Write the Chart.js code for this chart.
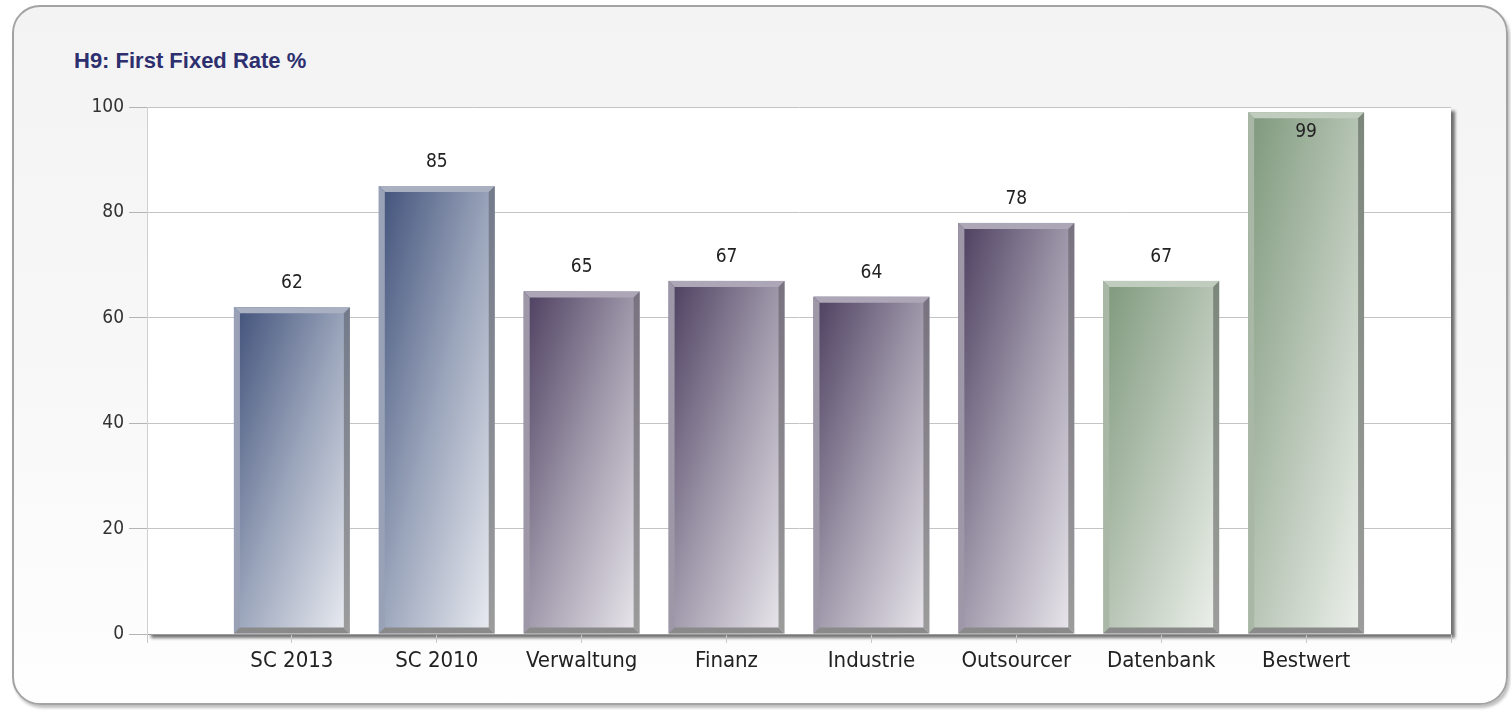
<!DOCTYPE html>
<html>
<head>
<meta charset="utf-8">
<script src="https://cdn.jsdelivr.net/npm/chart.js@4.4.1/dist/chart.umd.min.js"></script>
<style>
    html, body { margin: 0; padding: 0; background: #ffffff; width: 1511px; height: 711px; overflow: hidden; }
    #panel {
        position: absolute; left: 12px; top: 5px; width: 1492px; height: 696px;
        border: 2px solid #a3a3a3; border-radius: 28px;
        background: linear-gradient(to bottom, #f3f3f3 0%, #f8f8f8 55%, #fefefe 100%);
        box-shadow: 2px 3px 3px rgba(0, 0, 0, 0.25);
    }
    #title {
        position: absolute; left: 74px; top: 48px;
        font: bold 22px "Liberation Sans", Arial, sans-serif; color: #2d2f6e;
    }
    #chart { position: absolute; left: 0; top: 0; }
</style>
</head>
<body>
<div id="panel"></div>
<div id="title">H9: First Fixed Rate %</div>
<canvas id="chart" width="1511" height="711"></canvas>
<script>
const categories = ['SC 2013', 'SC 2010', 'Verwaltung', 'Finanz', 'Industrie', 'Outsourcer', 'Datenbank', 'Bestwert'];
const values = [62, 85, 65, 67, 64, 78, 67, 99];
const yTicks = [0, 20, 40, 60, 80, 100];
const barGroups = ['blue', 'blue', 'purple', 'purple', 'purple', 'purple', 'green', 'green'];

// colours for the bevelled gradient bars
const palette = {
    blue:   { dark: '#3f5079', mid: '#9ba5bb', light: '#eceef3', top: '#a8b0c2', left: '#98a1b6', side: '#737a8a' },
    purple: { dark: '#4b3d5e', mid: '#a099ab', light: '#ebe9ee', top: '#aca6b6', left: '#9d97a7', side: '#77727f' },
    green:  { dark: '#7d987b', mid: '#b7c5b5', light: '#eef2ed', top: '#c0ccbe', left: '#a9b8a6', side: '#7c877b' }
};

const FONT = '"DejaVu Sans Condensed", "DejaVu Sans", sans-serif';
Chart.defaults.font.family = FONT;

// the x axis has an empty slot at each end, bars sit on the inner ticks
const axisLabels = [''].concat(categories, ['']);
const axisData = [null].concat(values, [null]);

const plotBackground = {
    id: 'plotBackground',
    beforeDraw(chart) {
        const { ctx, chartArea: a } = chart;
        ctx.save();
        ctx.shadowColor = 'rgba(0, 0, 0, 0.55)';
        ctx.shadowOffsetX = 4;
        ctx.shadowOffsetY = 4;
        ctx.shadowBlur = 3;
        ctx.fillStyle = '#ffffff';
        ctx.fillRect(a.left, a.top, a.right - a.left, a.bottom - a.top);
        ctx.restore();
    }
};

function poly(ctx, pts, fill) {
    ctx.beginPath();
    ctx.moveTo(pts[0][0], pts[0][1]);
    for (let i = 1; i < pts.length; i++) ctx.lineTo(pts[i][0], pts[i][1]);
    ctx.closePath();
    ctx.fillStyle = fill;
    ctx.fill();
}

const bevelBars = {
    id: 'bevelBars',
    afterDatasetsDraw(chart) {
        const ctx = chart.ctx;
        const meta = chart.getDatasetMeta(0);
        const area = chart.chartArea;
        const b = 6;
        meta.data.forEach((bar, i) => {
            const v = axisData[i];
            if (v === null) return;
            const p = bar.getProps(['x', 'y', 'base', 'width'], true);
            const c = palette[barGroups[i - 1]];
            const x0 = p.x - p.width / 2, x1 = p.x + p.width / 2;
            const top = p.y, bottom = p.base;
            const w = x1 - x0, h = bottom - top;

            // diagonal gradient: t = 0.5*x/w + 0.5*y/h
            const vx = 0.5 / w, vy = 0.5 / h;
            const n = vx * vx + vy * vy;
            const g = ctx.createLinearGradient(x0, top, x0 + vx / n, top + vy / n);
            g.addColorStop(0, c.dark);
            g.addColorStop(0.5, c.mid);
            g.addColorStop(1, c.light);
            ctx.save();
            ctx.fillStyle = g;
            ctx.fillRect(x0, top, w, h);

            poly(ctx, [[x0, top], [x1, top], [x1 - b, top + b], [x0 + b, top + b]], c.top);
            poly(ctx, [[x0, top], [x0 + b, top + b], [x0 + b, bottom - b], [x0, bottom]], c.left);
            const sg = ctx.createLinearGradient(0, top, 0, bottom);
            sg.addColorStop(0, c.side);
            sg.addColorStop(1, '#9c9c9c');
            poly(ctx, [[x1, top], [x1, bottom], [x1 - b, bottom - b], [x1 - b, top + b]], sg);
            poly(ctx, [[x0, bottom], [x1, bottom], [x1 - b, bottom - b], [x0 + b, bottom - b]], '#8a8a8a');

            // value label
            let ly = top - 24;
            if (ly - 10 < area.top) ly = top + 20;
            ctx.fillStyle = '#222222';
            ctx.font = '19px ' + FONT;
            ctx.textAlign = 'center';
            ctx.textBaseline = 'middle';
            ctx.fillText(String(v), p.x, ly);
            ctx.restore();
        });
    }
};

new Chart(document.getElementById('chart').getContext('2d'), {
    type: 'bar',
    data: {
        labels: axisLabels,
        datasets: [{
            data: axisData,
            backgroundColor: 'rgba(0, 0, 0, 0)',
            borderWidth: 0,
            categoryPercentage: 0.8,
            barPercentage: 1
        }]
    },
    options: {
        responsive: false,
        animation: false,
        layout: { padding: { left: 0, right: 60, top: 107, bottom: 0 } },
        plugins: {
            legend: { display: false },
            tooltip: { enabled: false }
        },
        scales: {
            x: {
                type: 'category',
                offset: false,
                afterFit(scale) { scale.height = 77; },
                grid: { offset: false, drawOnChartArea: false, tickLength: 9, tickColor: '#c8c8c8' },
                border: { color: '#9a9a9a' },
                ticks: { autoSkip: false, maxRotation: 0, padding: 5, color: '#222222', font: { size: 22 } }
            },
            y: {
                min: 0,
                max: 100,
                afterFit(scale) { scale.width = 147; },
                afterBuildTicks(scale) { scale.ticks = yTicks.map(v => ({ value: v })); },
                grid: { color: '#c4c4c4', tickColor: '#b4b4b4', tickLength: 18 },
                border: { color: '#d0d0d0' },
                ticks: { padding: 5, color: '#333333', font: { size: 19 } }
            }
        }
    },
    plugins: [plotBackground, bevelBars]
});
</script>
</body>
</html>
